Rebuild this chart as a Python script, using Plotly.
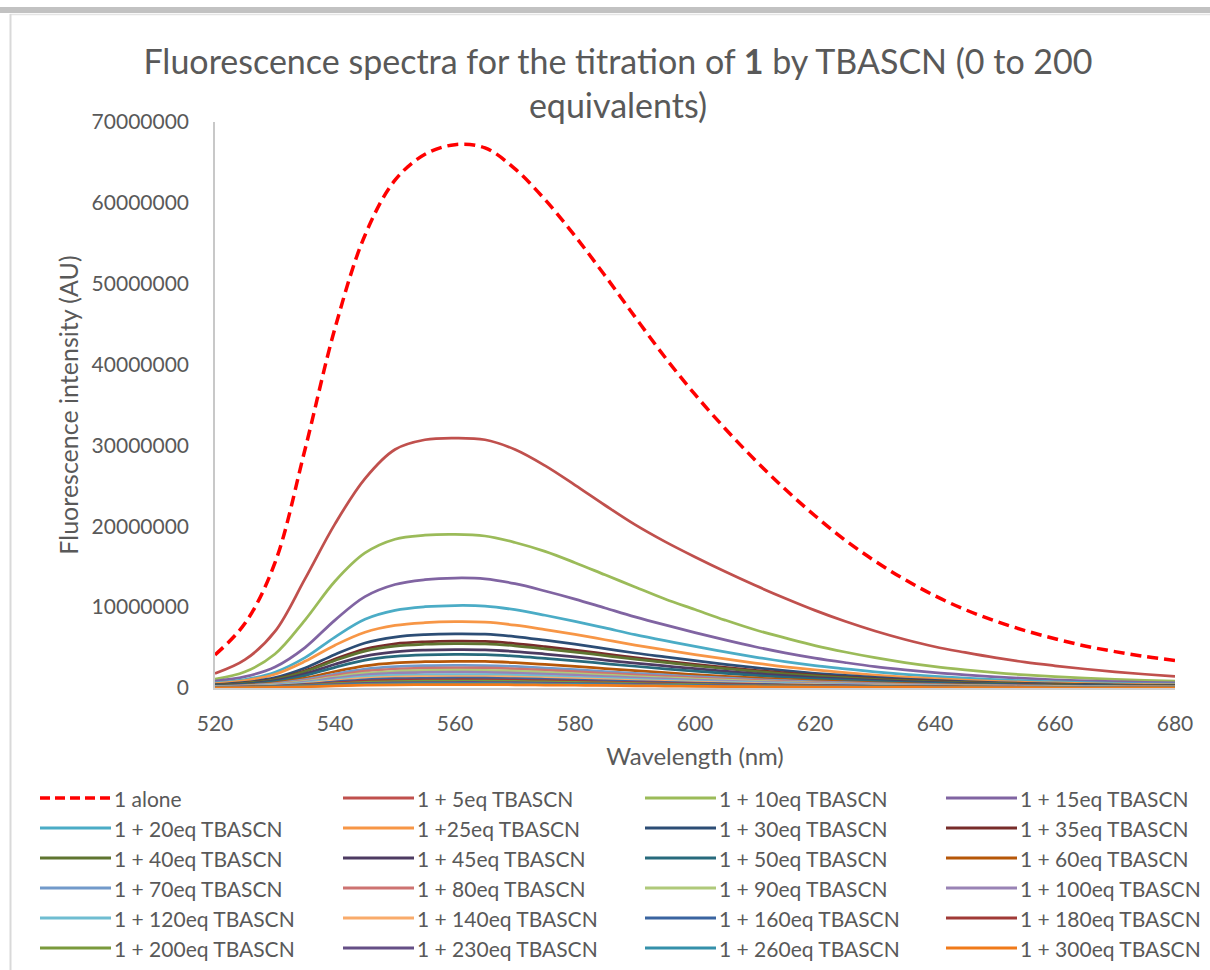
import plotly.graph_objects as go

# Emission wavelengths (nm)
wavelength_nm = list(range(520, 681, 5))

# Fluorescence intensity at each wavelength, in millions of AU
alone = [4.1, 8.0, 15.5, 29.5, 44.5, 56.0, 62.8, 66.0, 67.2, 66.8, 64.2, 60.4, 55.9, 51.0, 45.9, 40.9, 36.3,
         32.1, 28.2, 24.6, 21.3, 18.3, 15.7, 13.4, 11.4, 9.7, 8.3, 7.1, 6.1, 5.2, 4.5, 3.9, 3.4]
eq5 = [1.8, 3.5, 7.0, 13.5, 20.3, 25.9, 29.5, 30.7, 30.9, 30.7, 29.5, 27.5, 25.1, 22.6, 20.2, 18.1, 16.2,
       14.4, 12.7, 11.1, 9.6, 8.25, 7.05, 6.0, 5.1, 4.4, 3.75, 3.2, 2.75, 2.35, 2.0, 1.7, 1.45]
eq10 = [1.1, 2.0, 4.2, 8.4, 13.2, 16.7, 18.4, 18.9, 19.0, 18.8, 18.0, 16.9, 15.5, 14.0, 12.5, 11.0, 9.7,
        8.4, 7.2, 6.2, 5.25, 4.45, 3.75, 3.15, 2.65, 2.25, 1.9, 1.62, 1.4, 1.22, 1.07, 0.95, 0.85]
eq15 = [0.85, 1.4, 2.6, 5.0, 8.4, 11.3, 12.8, 13.4, 13.6, 13.5, 12.9, 12.0, 11.0, 9.9, 8.8, 7.8, 6.85,
        5.95, 5.1, 4.35, 3.7, 3.15, 2.65, 2.25, 1.9, 1.62, 1.38, 1.18, 1.02, 0.89, 0.78, 0.69, 0.62]
eq20 = [0.64, 1.05, 1.95, 3.75, 6.3, 8.5, 9.6, 10.05, 10.2, 10.13, 9.68, 9.0, 8.25, 7.43, 6.6, 5.85, 5.14,
        4.46, 3.83, 3.26, 2.77, 2.37, 1.99, 1.68, 1.43, 1.21, 1.03, 0.89, 0.77, 0.66, 0.58, 0.52, 0.47]
eq25 = [0.55, 0.92, 1.7, 3.3, 5.3, 6.9, 7.74, 8.08, 8.2, 8.14, 7.78, 7.23, 6.63, 5.97, 5.31, 4.71, 4.13,
        3.59, 3.08, 2.62, 2.23, 1.9, 1.6, 1.35, 1.15, 0.98, 0.83, 0.71, 0.62, 0.53, 0.47, 0.42, 0.38]
eq30 = [0.42, 0.69, 1.28, 2.47, 4.14, 5.57, 6.3, 6.6, 6.7, 6.65, 6.36, 5.91, 5.42, 4.88, 4.33, 3.85, 3.38,
        2.93, 2.51, 2.14, 1.82, 1.55, 1.31, 1.11, 0.94, 0.8, 0.68, 0.58, 0.5, 0.44, 0.38, 0.34, 0.31]
eq35 = [0.36, 0.6, 1.11, 2.13, 3.58, 4.82, 5.46, 5.71, 5.8, 5.76, 5.5, 5.12, 4.69, 4.22, 3.75, 3.33, 2.92,
        2.54, 2.18, 1.86, 1.58, 1.35, 1.13, 0.96, 0.81, 0.69, 0.59, 0.5, 0.44, 0.38, 0.33, 0.3, 0.27]
eq40 = [0.34, 0.57, 1.05, 2.02, 3.4, 4.57, 5.18, 5.42, 5.5, 5.46, 5.22, 4.85, 4.45, 4.0, 3.56, 3.16, 2.77,
        2.41, 2.06, 1.76, 1.5, 1.28, 1.07, 0.91, 0.77, 0.65, 0.56, 0.48, 0.41, 0.36, 0.31, 0.28, 0.25]
eq45 = [0.3, 0.49, 0.91, 1.75, 2.94, 3.95, 4.47, 4.68, 4.75, 4.72, 4.51, 4.19, 3.84, 3.46, 3.07, 2.73, 2.39,
        2.08, 1.78, 1.52, 1.29, 1.1, 0.93, 0.78, 0.67, 0.57, 0.48, 0.41, 0.36, 0.31, 0.27, 0.24, 0.22]
eq50 = [0.26, 0.43, 0.79, 1.53, 2.56, 3.45, 3.9, 4.09, 4.15, 4.12, 3.94, 3.66, 3.36, 3.02, 2.69, 2.38, 2.09,
        1.82, 1.56, 1.33, 1.13, 0.96, 0.81, 0.68, 0.58, 0.49, 0.42, 0.36, 0.31, 0.27, 0.24, 0.21, 0.19]
eq60 = [0.21, 0.34, 0.63, 1.21, 2.04, 2.74, 3.11, 3.25, 3.3, 3.28, 3.13, 2.91, 2.67, 2.4, 2.14, 1.89, 1.66,
        1.44, 1.24, 1.06, 0.9, 0.77, 0.64, 0.54, 0.46, 0.39, 0.33, 0.29, 0.25, 0.21, 0.19, 0.17, 0.15]
eq70 = [0.18, 0.29, 0.53, 1.03, 1.73, 2.33, 2.63, 2.76, 2.8, 2.78, 2.66, 2.47, 2.27, 2.04, 1.81, 1.61, 1.41,
        1.23, 1.05, 0.9, 0.76, 0.65, 0.55, 0.46, 0.39, 0.33, 0.28, 0.24, 0.21, 0.18, 0.16, 0.14, 0.13]
eq80 = [0.16, 0.26, 0.48, 0.92, 1.55, 2.08, 2.35, 2.46, 2.5, 2.48, 2.37, 2.21, 2.02, 1.82, 1.62, 1.44, 1.26,
        1.09, 0.94, 0.8, 0.68, 0.58, 0.49, 0.41, 0.35, 0.3, 0.25, 0.22, 0.19, 0.16, 0.14, 0.13, 0.12]
eq90 = [0.14, 0.23, 0.42, 0.81, 1.36, 1.83, 2.07, 2.17, 2.2, 2.18, 2.09, 1.94, 1.78, 1.6, 1.42, 1.26, 1.11,
        0.96, 0.83, 0.7, 0.6, 0.51, 0.43, 0.36, 0.31, 0.26, 0.22, 0.19, 0.17, 0.14, 0.13, 0.11, 0.1]
eq100 = [0.12, 0.2, 0.37, 0.72, 1.21, 1.62, 1.83, 1.92, 1.95, 1.94, 1.85, 1.72, 1.58, 1.42, 1.26, 1.12, 0.98,
         0.85, 0.73, 0.62, 0.53, 0.45, 0.38, 0.32, 0.27, 0.23, 0.2, 0.17, 0.15, 0.13, 0.11, 0.1, 0.09]
eq120 = [0.1, 0.17, 0.32, 0.61, 1.02, 1.37, 1.55, 1.63, 1.65, 1.64, 1.57, 1.46, 1.33, 1.2, 1.07, 0.95, 0.83,
         0.72, 0.62, 0.53, 0.45, 0.38, 0.32, 0.27, 0.23, 0.2, 0.17, 0.14, 0.12, 0.11, 0.09, 0.08, 0.08]
eq140 = [0.09, 0.15, 0.27, 0.52, 0.88, 1.18, 1.34, 1.4, 1.42, 1.41, 1.35, 1.25, 1.15, 1.03, 0.92, 0.82, 0.72,
         0.62, 0.53, 0.45, 0.39, 0.33, 0.28, 0.23, 0.2, 0.17, 0.14, 0.12, 0.11, 0.09, 0.08, 0.07, 0.07]
eq160 = [0.08, 0.13, 0.23, 0.45, 0.75, 1.01, 1.15, 1.2, 1.22, 1.21, 1.16, 1.08, 0.99, 0.89, 0.79, 0.7, 0.61,
         0.53, 0.46, 0.39, 0.33, 0.28, 0.24, 0.2, 0.17, 0.15, 0.12, 0.11, 0.09, 0.08, 0.07, 0.06, 0.06]
eq180 = [0.06, 0.11, 0.19, 0.38, 0.63, 0.85, 0.96, 1.0, 1.02, 1.01, 0.97, 0.9, 0.83, 0.74, 0.66, 0.59, 0.51,
         0.45, 0.38, 0.33, 0.28, 0.24, 0.2, 0.17, 0.14, 0.12, 0.1, 0.09, 0.08, 0.07, 0.06, 0.05, 0.05]
eq200 = [0.05, 0.09, 0.16, 0.31, 0.53, 0.71, 0.8, 0.84, 0.85, 0.84, 0.81, 0.75, 0.69, 0.62, 0.55, 0.49, 0.43,
         0.37, 0.32, 0.27, 0.23, 0.2, 0.17, 0.14, 0.12, 0.1, 0.09, 0.07, 0.06, 0.06, 0.05, 0.04, 0.04]
eq230 = [0.04, 0.07, 0.13, 0.25, 0.42, 0.57, 0.64, 0.67, 0.68, 0.68, 0.65, 0.6, 0.55, 0.5, 0.44, 0.39, 0.34,
         0.3, 0.26, 0.22, 0.18, 0.16, 0.13, 0.11, 0.1, 0.08, 0.07, 0.06, 0.05, 0.04, 0.04, 0.03, 0.03]
eq260 = [0.03, 0.06, 0.11, 0.2, 0.34, 0.46, 0.52, 0.54, 0.55, 0.55, 0.52, 0.49, 0.44, 0.4, 0.36, 0.32, 0.28,
         0.24, 0.21, 0.18, 0.15, 0.13, 0.11, 0.09, 0.08, 0.07, 0.06, 0.05, 0.04, 0.04, 0.03, 0.03, 0.03]
eq300 = [0.03, 0.04, 0.08, 0.15, 0.26, 0.35, 0.4, 0.41, 0.42, 0.42, 0.4, 0.37, 0.34, 0.31, 0.27, 0.24, 0.21,
         0.18, 0.16, 0.13, 0.11, 0.1, 0.08, 0.07, 0.06, 0.05, 0.04, 0.04, 0.03, 0.03, 0.02, 0.02, 0.02]

series_values = [alone, eq5, eq10, eq15, eq20, eq25, eq30, eq35, eq40, eq45, eq50, eq60,
                 eq70, eq80, eq90, eq100, eq120, eq140, eq160, eq180, eq200, eq230, eq260, eq300]

series_names = [
    "1 alone", "1 + 5eq TBASCN", "1 + 10eq TBASCN", "1 + 15eq TBASCN",
    "1 + 20eq TBASCN", "1 +25eq TBASCN", "1 + 30eq TBASCN", "1 + 35eq TBASCN",
    "1 + 40eq TBASCN", "1 + 45eq TBASCN", "1 + 50eq TBASCN", "1 + 60eq TBASCN",
    "1 + 70eq TBASCN", "1 + 80eq TBASCN", "1 + 90eq TBASCN", "1 + 100eq TBASCN",
    "1 + 120eq TBASCN", "1 + 140eq TBASCN", "1 + 160eq TBASCN", "1 + 180eq TBASCN",
    "1 + 200eq TBASCN", "1 + 230eq TBASCN", "1 + 260eq TBASCN", "1 + 300eq TBASCN",
]

x_ticks = [520, 540, 560, 580, 600, 620, 640, 660, 680]
y_ticks = [0, 10000000, 20000000, 30000000, 40000000, 50000000, 60000000, 70000000]

# Styling
line_colors = [
    "#FF0000", "#C0504D", "#9BBB59", "#8064A2", "#4BACC6", "#F79646",
    "#2C4D75", "#772C2A", "#5F7530", "#4D3B62", "#276A7C", "#B65708",
    "#729ACA", "#CD7371", "#AFC97A", "#9983B5", "#6FBDD1", "#F9AB6B",
    "#3A64A0", "#A03A37", "#7A9A3C", "#654F86", "#3590AA", "#F07A1A",
]
FONT = "Lato, 'Open Sans', sans-serif"
TEXT_GREY = "#595959"
MILLION = 1_000_000

W, H = 1210, 970
PLOT_L, PLOT_R, PLOT_T, PLOT_B = 215, 1175, 122, 688


def px(x):
    return (x - PLOT_L) / (PLOT_R - PLOT_L)


def py(y):
    return (PLOT_B - y) / (PLOT_B - PLOT_T)


fig = go.Figure()
for i, (name, vals) in enumerate(zip(series_names, series_values)):
    fig.add_trace(go.Scatter(
        x=wavelength_nm,
        y=[v * MILLION for v in vals],
        name=name,
        mode="lines",
        line=dict(color=line_colors[i], width=3.5 if i == 0 else 2.75,
                  dash="11px,6px" if i == 0 else "solid", shape="spline", smoothing=1.0),
        showlegend=False,
    ))

shapes = []
annotations = []

# Window frame: grey bar across the top and a thin border on the left
shapes.append(dict(type="rect", xref="paper", yref="paper",
                   x0=px(0), x1=px(W), y0=py(13), y1=py(7),
                   fillcolor="#C2C2C2", line=dict(width=0), layer="below"))
shapes.append(dict(type="line", xref="paper", yref="paper",
                   x0=px(10), x1=px(W), y0=py(14.5), y1=py(14.5),
                   line=dict(color="#E4E4E4", width=1.5), layer="below"))
shapes.append(dict(type="line", xref="paper", yref="paper",
                   x0=px(10.5), x1=px(10.5), y0=py(14), y1=py(H),
                   line=dict(color="#D9D9D9", width=2), layer="below"))

# Legend: four columns, filled row by row
col_x = [40, 343, 645, 946]
row_y0, row_step, sample_len = 798, 30, 71
for i, name in enumerate(series_names):
    r, c = divmod(i, 4)
    x0 = col_x[c]
    yy = row_y0 + r * row_step
    shapes.append(dict(type="line", xref="paper", yref="paper",
                       x0=px(x0), x1=px(x0 + sample_len), y0=py(yy), y1=py(yy),
                       line=dict(color=line_colors[i], width=3.5 if i == 0 else 3,
                                 dash="10px,5px" if i == 0 else "solid")))
    annotations.append(dict(xref="paper", yref="paper", x=px(x0 + sample_len + 1), y=py(yy),
                            xanchor="left", yanchor="middle", showarrow=False, text=name,
                            font=dict(family=FONT, size=21, color=TEXT_GREY)))

fig.update_layout(
    width=W, height=H,
    margin=dict(l=PLOT_L, r=W - PLOT_R, t=PLOT_T, b=H - PLOT_B, pad=0),
    paper_bgcolor="white", plot_bgcolor="white",
    font=dict(family=FONT, color=TEXT_GREY),
    title=dict(
        text="Fluorescence spectra for the titration of <b>1</b> by TBASCN (0 to 200<br>equivalents)",
        font=dict(family=FONT, size=34, color=TEXT_GREY),
        xref="paper", x=px(618), xanchor="center",
        yref="container", y=1 - 74 / H, yanchor="middle",
    ),
    xaxis=dict(
        range=[520, 680], tickmode="array", tickvals=x_ticks, ticktext=[str(t) for t in x_ticks],
        showgrid=False, zeroline=False, showline=True, linecolor="#D0D0D0", linewidth=1.5,
        ticks="", ticklabelstandoff=16,
        tickfont=dict(family=FONT, size=21, color=TEXT_GREY),
        title=dict(text="Wavelength (nm)", font=dict(family=FONT, size=24, color=TEXT_GREY), standoff=14),
    ),
    yaxis=dict(
        range=[0, 70000000], tickmode="array", tickvals=y_ticks, ticktext=[str(t) for t in y_ticks],
        showgrid=False, zeroline=False, showline=True, linecolor="#C8C8C8", linewidth=1.5,
        ticks="", ticklabelstandoff=20,
        tickfont=dict(family=FONT, size=21, color=TEXT_GREY),
        title=dict(text="Fluorescence intensity (AU)", font=dict(family=FONT, size=25, color=TEXT_GREY),
                   standoff=6),
    ),
    shapes=shapes,
    annotations=annotations,
)

fig.write_html("out.html")
